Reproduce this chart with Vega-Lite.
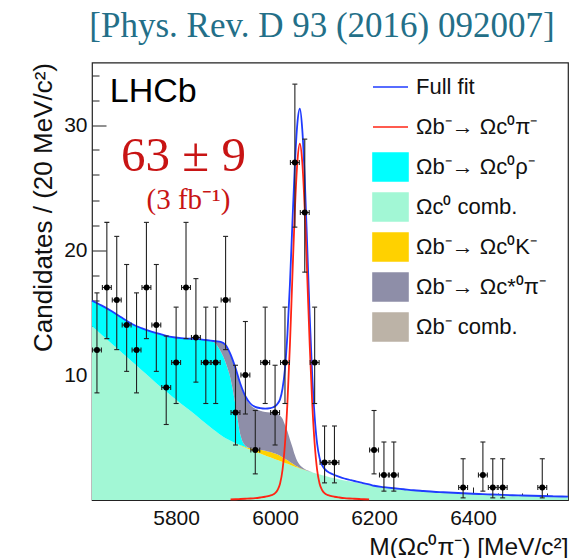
{
  "$schema": "https://vega.github.io/schema/vega-lite/v6.json",
  "width": 476,
  "height": 437.5,
  "autosize": {"type": "none"},
  "padding": {"left": 92, "top": 62.5, "right": 18, "bottom": 58},
  "background": "white",
  "config": {"view": {"stroke": "#222222", "strokeWidth": 1.2}, "font": "Liberation Sans"},
  "title": {"text": "[Phys. Rev. D 93 (2016) 092007]", "font": "Liberation Serif", "fontSize": 35, "fontWeight": "normal", "color": "#236f88", "anchor": "middle", "frame": "group", "dx": -8, "dy": 30, "offset": 21, "baseline": "alphabetic"},
  "resolve": {"axis": {"x": "independent", "y": "independent"}},
  "datasets": {
    "curves": [
      {"x": 5630, "a_ccomb": 13.9, "b_kaon": 0, "c_rho": 2.04, "d_star": 0},
      {"x": 5650, "a_ccomb": 13.2, "b_kaon": 0, "c_rho": 2.35, "d_star": 0},
      {"x": 5670, "a_ccomb": 12.5, "b_kaon": 0, "c_rho": 2.6, "d_star": 0},
      {"x": 5690, "a_ccomb": 11.8, "b_kaon": 0, "c_rho": 2.8, "d_star": 0},
      {"x": 5710, "a_ccomb": 11.1, "b_kaon": 0, "c_rho": 3.0, "d_star": 0},
      {"x": 5730, "a_ccomb": 10.4, "b_kaon": 0, "c_rho": 3.35, "d_star": 0},
      {"x": 5750, "a_ccomb": 9.7, "b_kaon": 0, "c_rho": 3.77, "d_star": 0},
      {"x": 5770, "a_ccomb": 9.0, "b_kaon": 0, "c_rho": 4.25, "d_star": 0},
      {"x": 5790, "a_ccomb": 8.35, "b_kaon": 0, "c_rho": 4.7, "d_star": 0},
      {"x": 5810, "a_ccomb": 7.7, "b_kaon": 0, "c_rho": 5.25, "d_star": 0},
      {"x": 5830, "a_ccomb": 7.1, "b_kaon": 0, "c_rho": 5.8, "d_star": 0},
      {"x": 5850, "a_ccomb": 6.45, "b_kaon": 0, "c_rho": 6.4, "d_star": 0},
      {"x": 5860, "a_ccomb": 6.12, "b_kaon": 0, "c_rho": 6.68, "d_star": 0},
      {"x": 5870, "a_ccomb": 5.8, "b_kaon": 0, "c_rho": 6.9, "d_star": 0.05},
      {"x": 5880, "a_ccomb": 5.5, "b_kaon": 0, "c_rho": 7.0, "d_star": 0.2},
      {"x": 5890, "a_ccomb": 5.2, "b_kaon": 0, "c_rho": 6.7, "d_star": 0.75},
      {"x": 5900, "a_ccomb": 4.95, "b_kaon": 0, "c_rho": 6.05, "d_star": 1.4},
      {"x": 5910, "a_ccomb": 4.75, "b_kaon": 0, "c_rho": 4.95, "d_star": 1.9, "sig": 0.05},
      {"x": 5920, "a_ccomb": 4.55, "b_kaon": 0, "c_rho": 3.05, "d_star": 2.9, "sig": 0.06},
      {"x": 5930, "a_ccomb": 4.35, "b_kaon": 0.03, "c_rho": 0.82, "d_star": 4.0, "sig": 0.08},
      {"x": 5940, "a_ccomb": 4.18, "b_kaon": 0.07, "c_rho": 0.1, "d_star": 3.85, "sig": 0.1},
      {"x": 5950, "a_ccomb": 4.02, "b_kaon": 0.12, "c_rho": 0, "d_star": 3.46, "sig": 0.12},
      {"x": 5960, "a_ccomb": 3.87, "b_kaon": 0.2, "c_rho": 0, "d_star": 3.23, "sig": 0.15},
      {"x": 5970, "a_ccomb": 3.72, "b_kaon": 0.3, "c_rho": 0, "d_star": 3.13, "sig": 0.2},
      {"x": 5980, "a_ccomb": 3.57, "b_kaon": 0.38, "c_rho": 0, "d_star": 3.1, "sig": 0.26},
      {"x": 5990, "a_ccomb": 3.42, "b_kaon": 0.42, "c_rho": 0, "d_star": 3.16, "sig": 0.35},
      {"x": 5995, "a_ccomb": 3.35, "b_kaon": 0.44, "c_rho": 0, "d_star": 3.19, "sig": 0.42},
      {"x": 6000, "a_ccomb": 3.27, "b_kaon": 0.45, "c_rho": 0, "d_star": 3.23, "sig": 0.55},
      {"x": 6005, "a_ccomb": 3.2, "b_kaon": 0.44, "c_rho": 0, "d_star": 3.26, "sig": 0.8},
      {"x": 6010, "a_ccomb": 3.12, "b_kaon": 0.42, "c_rho": 0, "d_star": 3.21, "sig": 1.3},
      {"x": 6015, "a_ccomb": 3.05, "b_kaon": 0.38, "c_rho": 0, "d_star": 3.07, "sig": 2.4},
      {"x": 6020, "a_ccomb": 2.97, "b_kaon": 0.33, "c_rho": 0, "d_star": 2.7, "sig": 4.5},
      {"x": 6025, "a_ccomb": 2.9, "b_kaon": 0.28, "c_rho": 0, "d_star": 2.32, "sig": 7.8},
      {"x": 6030, "a_ccomb": 2.82, "b_kaon": 0.22, "c_rho": 0, "d_star": 1.81, "sig": 12.4},
      {"x": 6035, "a_ccomb": 2.75, "b_kaon": 0.17, "c_rho": 0, "d_star": 1.33, "sig": 17.9},
      {"x": 6040, "a_ccomb": 2.67, "b_kaon": 0.12, "c_rho": 0, "d_star": 0.81, "sig": 23.2},
      {"x": 6045, "a_ccomb": 2.6, "b_kaon": 0.08, "c_rho": 0, "d_star": 0.42, "sig": 27.0},
      {"x": 6050, "a_ccomb": 2.52, "b_kaon": 0.05, "c_rho": 0, "d_star": 0.23, "sig": 28.5},
      {"x": 6055, "a_ccomb": 2.46, "b_kaon": 0.03, "c_rho": 0, "d_star": 0.13, "sig": 27.0},
      {"x": 6060, "a_ccomb": 2.4, "b_kaon": 0.02, "c_rho": 0, "d_star": 0.06, "sig": 23.2},
      {"x": 6065, "a_ccomb": 2.34, "b_kaon": 0.01, "c_rho": 0, "d_star": 0.03, "sig": 17.9},
      {"x": 6070, "a_ccomb": 2.28, "b_kaon": 0, "c_rho": 0, "d_star": 0.02, "sig": 12.4},
      {"x": 6075, "a_ccomb": 2.22, "b_kaon": 0, "c_rho": 0, "d_star": 0, "sig": 7.8},
      {"x": 6080, "a_ccomb": 2.16, "b_kaon": 0, "c_rho": 0, "d_star": 0, "sig": 4.5},
      {"x": 6085, "a_ccomb": 2.1, "b_kaon": 0, "c_rho": 0, "d_star": 0, "sig": 2.4},
      {"x": 6090, "a_ccomb": 2.05, "b_kaon": 0, "c_rho": 0, "d_star": 0, "sig": 1.3},
      {"x": 6095, "a_ccomb": 1.99, "b_kaon": 0, "c_rho": 0, "d_star": 0, "sig": 0.8},
      {"x": 6100, "a_ccomb": 1.94, "b_kaon": 0, "c_rho": 0, "d_star": 0, "sig": 0.55},
      {"x": 6105, "a_ccomb": 1.88, "b_kaon": 0, "c_rho": 0, "d_star": 0, "sig": 0.42},
      {"x": 6110, "a_ccomb": 1.83, "b_kaon": 0, "c_rho": 0, "d_star": 0, "sig": 0.35},
      {"x": 6120, "a_ccomb": 1.74, "b_kaon": 0, "c_rho": 0, "d_star": 0, "sig": 0.26},
      {"x": 6130, "a_ccomb": 1.65, "b_kaon": 0, "c_rho": 0, "d_star": 0, "sig": 0.2},
      {"x": 6140, "a_ccomb": 1.57, "b_kaon": 0, "c_rho": 0, "d_star": 0, "sig": 0.15},
      {"x": 6150, "a_ccomb": 1.5, "b_kaon": 0, "c_rho": 0, "d_star": 0, "sig": 0.12},
      {"x": 6160, "a_ccomb": 1.42, "b_kaon": 0, "c_rho": 0, "d_star": 0, "sig": 0.1},
      {"x": 6170, "a_ccomb": 1.35, "b_kaon": 0, "c_rho": 0, "d_star": 0, "sig": 0.08},
      {"x": 6180, "a_ccomb": 1.27, "b_kaon": 0, "c_rho": 0, "d_star": 0, "sig": 0.06},
      {"x": 6190, "a_ccomb": 1.2, "b_kaon": 0, "c_rho": 0, "d_star": 0, "sig": 0.05},
      {"x": 6200, "a_ccomb": 1.14, "b_kaon": 0, "c_rho": 0, "d_star": 0},
      {"x": 6220, "a_ccomb": 1.03, "b_kaon": 0, "c_rho": 0, "d_star": 0},
      {"x": 6240, "a_ccomb": 0.94, "b_kaon": 0, "c_rho": 0, "d_star": 0},
      {"x": 6260, "a_ccomb": 0.86, "b_kaon": 0, "c_rho": 0, "d_star": 0},
      {"x": 6280, "a_ccomb": 0.78, "b_kaon": 0, "c_rho": 0, "d_star": 0},
      {"x": 6300, "a_ccomb": 0.72, "b_kaon": 0, "c_rho": 0, "d_star": 0},
      {"x": 6320, "a_ccomb": 0.66, "b_kaon": 0, "c_rho": 0, "d_star": 0},
      {"x": 6340, "a_ccomb": 0.62, "b_kaon": 0, "c_rho": 0, "d_star": 0},
      {"x": 6360, "a_ccomb": 0.58, "b_kaon": 0, "c_rho": 0, "d_star": 0},
      {"x": 6380, "a_ccomb": 0.54, "b_kaon": 0, "c_rho": 0, "d_star": 0},
      {"x": 6400, "a_ccomb": 0.5, "b_kaon": 0, "c_rho": 0, "d_star": 0},
      {"x": 6420, "a_ccomb": 0.47, "b_kaon": 0, "c_rho": 0, "d_star": 0},
      {"x": 6440, "a_ccomb": 0.44, "b_kaon": 0, "c_rho": 0, "d_star": 0},
      {"x": 6460, "a_ccomb": 0.41, "b_kaon": 0, "c_rho": 0, "d_star": 0},
      {"x": 6480, "a_ccomb": 0.38, "b_kaon": 0, "c_rho": 0, "d_star": 0},
      {"x": 6500, "a_ccomb": 0.36, "b_kaon": 0, "c_rho": 0, "d_star": 0},
      {"x": 6520, "a_ccomb": 0.34, "b_kaon": 0, "c_rho": 0, "d_star": 0},
      {"x": 6540, "a_ccomb": 0.32, "b_kaon": 0, "c_rho": 0, "d_star": 0},
      {"x": 6560, "a_ccomb": 0.3, "b_kaon": 0, "c_rho": 0, "d_star": 0},
      {"x": 6580, "a_ccomb": 0.28, "b_kaon": 0, "c_rho": 0, "d_star": 0},
      {"x": 6592, "a_ccomb": 0.27, "b_kaon": 0, "c_rho": 0, "d_star": 0}
    ],
    "points": [
      {"x": 5640, "n": 12, "lo": 8.57, "hi": 16.57, "x0": 5631, "x1": 5649},
      {"x": 5660, "n": 17, "lo": 12.91, "hi": 22.21, "x0": 5651, "x1": 5669},
      {"x": 5680, "n": 16, "lo": 12.03, "hi": 21.09, "x0": 5671, "x1": 5689},
      {"x": 5700, "n": 14, "lo": 10.29, "hi": 18.84, "x0": 5691, "x1": 5709},
      {"x": 5720, "n": 12, "lo": 8.57, "hi": 16.57, "x0": 5711, "x1": 5729},
      {"x": 5740, "n": 17, "lo": 12.91, "hi": 22.21, "x0": 5731, "x1": 5749},
      {"x": 5760, "n": 14, "lo": 10.29, "hi": 18.84, "x0": 5751, "x1": 5769},
      {"x": 5780, "n": 9, "lo": 6.04, "hi": 13.12, "x0": 5771, "x1": 5789},
      {"x": 5800, "n": 11, "lo": 7.72, "hi": 15.43, "x0": 5791, "x1": 5809},
      {"x": 5820, "n": 17, "lo": 12.91, "hi": 22.21, "x0": 5811, "x1": 5829},
      {"x": 5840, "n": 13, "lo": 9.43, "hi": 17.71, "x0": 5831, "x1": 5849},
      {"x": 5860, "n": 11, "lo": 7.72, "hi": 15.43, "x0": 5851, "x1": 5869},
      {"x": 5880, "n": 11, "lo": 7.72, "hi": 15.43, "x0": 5871, "x1": 5889},
      {"x": 5900, "n": 16, "lo": 12.03, "hi": 21.09, "x0": 5891, "x1": 5909},
      {"x": 5920, "n": 7, "lo": 4.4, "hi": 10.78, "x0": 5911, "x1": 5929},
      {"x": 5940, "n": 10, "lo": 6.88, "hi": 14.28, "x0": 5931, "x1": 5949},
      {"x": 5960, "n": 4, "lo": 2.09, "hi": 7.16, "x0": 5951, "x1": 5969},
      {"x": 5980, "n": 11, "lo": 7.72, "hi": 15.43, "x0": 5971, "x1": 5989},
      {"x": 6000, "n": 7, "lo": 4.4, "hi": 10.78, "x0": 5991, "x1": 6009},
      {"x": 6020, "n": 11, "lo": 7.72, "hi": 15.43, "x0": 6011, "x1": 6029},
      {"x": 6040, "n": 27, "lo": 21.83, "hi": 33.27, "x0": 6031, "x1": 6049},
      {"x": 6060, "n": 23, "lo": 18.23, "hi": 28.87, "x0": 6051, "x1": 6069},
      {"x": 6080, "n": 11, "lo": 7.72, "hi": 15.43, "x0": 6071, "x1": 6089},
      {"x": 6100, "n": 3, "lo": 1.37, "hi": 5.92, "x0": 6091, "x1": 6109},
      {"x": 6120, "n": 3, "lo": 1.37, "hi": 5.92, "x0": 6111, "x1": 6129},
      {"x": 6200, "n": 4, "lo": 2.09, "hi": 7.16, "x0": 6191, "x1": 6209},
      {"x": 6220, "n": 2, "lo": 0.71, "hi": 4.64, "x0": 6211, "x1": 6229},
      {"x": 6240, "n": 2, "lo": 0.71, "hi": 4.64, "x0": 6231, "x1": 6249},
      {"x": 6380, "n": 1, "lo": 0.17, "hi": 3.3, "x0": 6371, "x1": 6389},
      {"x": 6420, "n": 2, "lo": 0.71, "hi": 4.64, "x0": 6411, "x1": 6429},
      {"x": 6440, "n": 1, "lo": 0.17, "hi": 3.3, "x0": 6431, "x1": 6449},
      {"x": 6460, "n": 1, "lo": 0.17, "hi": 3.3, "x0": 6451, "x1": 6469},
      {"x": 6540, "n": 1, "lo": 0.17, "hi": 3.3, "x0": 6531, "x1": 6549}
    ]
  },
  "layer": [
    {
      "data": {"name": "curves"},
      "transform": [{"fold": ["a_ccomb", "b_kaon", "c_rho", "d_star"], "as": ["comp", "val"]}],
      "mark": {"type": "area", "interpolate": "monotone"},
      "encoding": {
        "x": {
          "field": "x", "type": "quantitative",
          "scale": {"domain": [5630, 6592], "nice": false, "zero": false},
          "axis": {
            "orient": "bottom",
            "values": [5800, 6000, 6200, 6400],
            "format": "d", "tickSize": -13, "tickColor": "#222222", "tickWidth": 1,
            "domain": false, "grid": false,
            "labelFont": "Liberation Sans", "labelFontSize": 21, "labelColor": "#111111", "labelPadding": 20,
            "labelOverlap": false,
            "title": "M(Ωc⁰π⁻) [MeV/c²]", "titleFont": "Liberation Sans", "titleFontSize": 24.5, "titleFontWeight": "normal", "titleColor": "#111111",
            "titleAlign": "right", "titleAnchor": "end", "titleBaseline": "alphabetic", "titleX": 476, "titleY": 54
          }
        },
        "y": {
          "field": "val", "type": "quantitative", "stack": "zero",
          "scale": {"domain": [0, 35], "nice": false, "zero": true},
          "axis": {
            "orient": "left",
            "values": [10, 20, 30],
            "tickSize": -14, "tickColor": "#222222", "tickWidth": 1,
            "domain": false, "grid": false,
            "labelFont": "Liberation Sans", "labelFontSize": 21, "labelColor": "#111111", "labelPadding": 19,
            "labelOverlap": false,
            "title": "Candidates / (20 MeV/c²)", "titleFont": "Liberation Sans", "titleFontSize": 26, "titleFontWeight": "normal", "titleColor": "#111111",
            "titleAngle": 270, "titleAlign": "right", "titleBaseline": "alphabetic", "titleX": -41, "titleY": 0
          }
        },
        "color": {
          "field": "comp", "type": "nominal",
          "scale": {"domain": ["full", "sig", "c_rho", "a_ccomb", "b_kaon", "d_star", "e_bcomb"], "range": ["#1f3bff", "#ff2414", "#00ffff", "#a2f7d5", "#ffd100", "#8e8ea8", "#bcb3a7"]},
          "legend": {
            "orient": "none", "legendX": 280, "legendY": 6, "title": null, "padding": 0,
            "symbolSize": 1225, "rowPadding": 4, "labelOffset": 7, "labelLimit": 300, "gridAlign": "all",
            "labelFont": "Liberation Sans", "labelFontSize": 22, "labelColor": "#111111",
            "labelExpr": "datum.value == 'full' ? 'Full fit' : datum.value == 'sig' ? 'Ωb⁻→ Ωc⁰π⁻' : datum.value == 'c_rho' ? 'Ωb⁻→ Ωc⁰ρ⁻' : datum.value == 'a_ccomb' ? 'Ωc⁰ comb.' : datum.value == 'b_kaon' ? 'Ωb⁻→ Ωc⁰K⁻' : datum.value == 'd_star' ? 'Ωb⁻→ Ωc*⁰π⁻' : 'Ωb⁻ comb.'",
            "encode": {
              "symbols": {
                "update": {
                  "shape": {"signal": "datum.value == 'full' || datum.value == 'sig' ? 'M-1,0H1' : 'M-1,-0.8H1V0.8H-1Z'"},
                  "fill": {"signal": "datum.value == 'full' || datum.value == 'sig' ? 'transparent' : datum.value == 'c_rho' ? '#00ffff' : datum.value == 'a_ccomb' ? '#a2f7d5' : datum.value == 'b_kaon' ? '#ffd100' : datum.value == 'd_star' ? '#8e8ea8' : '#bcb3a7'"},
                  "stroke": {"signal": "datum.value == 'full' ? '#1f3bff' : datum.value == 'sig' ? '#ff2414' : 'transparent'"},
                  "strokeWidth": {"value": 1.6},
                  "opacity": {"value": 1},
                  "fillOpacity": {"value": 1},
                  "strokeOpacity": {"value": 1}
                }
              }
            }
          }
        },
        "order": {"field": "comp", "sort": "ascending"}
      }
    },
    {
      "data": {"name": "curves"},
      "transform": [
        {"fold": ["a_ccomb", "b_kaon", "c_rho", "d_star", "sig"], "as": ["comp", "val"]},
        {"aggregate": [{"op": "sum", "field": "val", "as": "total"}], "groupby": ["x"]}
      ],
      "mark": {"type": "line", "interpolate": "monotone", "strokeWidth": 1.8},
      "encoding": {
        "x": {"field": "x", "type": "quantitative", "axis": {"orient": "bottom", "values": [5650, 5700, 5750, 5850, 5900, 5950, 6050, 6100, 6150, 6250, 6300, 6350, 6450, 6500, 6550], "tickSize": -7, "tickColor": "#222222", "tickWidth": 1, "labels": false, "domain": false, "grid": false, "title": null}},
        "y": {"field": "total", "type": "quantitative", "axis": {"orient": "left", "values": [2, 4, 6, 8, 12, 14, 16, 18, 22, 24, 26, 28, 32, 34], "tickSize": -7, "tickColor": "#222222", "tickWidth": 1, "labels": false, "domain": false, "grid": false, "title": null}},
        "color": {"datum": "full", "type": "nominal", "legend": null}
      }
    },
    {
      "data": {"name": "curves"},
      "transform": [{"filter": {"field": "sig", "valid": true}}],
      "mark": {"type": "line", "interpolate": "monotone", "strokeWidth": 1.8},
      "encoding": {
        "x": {"field": "x", "type": "quantitative", "axis": null},
        "y": {"field": "sig", "type": "quantitative", "axis": null},
        "color": {"datum": "sig", "type": "nominal", "legend": null}
      }
    },
    {
      "data": {"name": "points"},
      "mark": {"type": "rule", "color": "#222222", "strokeWidth": 1.1},
      "encoding": {
        "x": {"field": "x", "type": "quantitative", "axis": null},
        "y": {"field": "lo", "type": "quantitative", "axis": null},
        "y2": {"field": "hi"}
      }
    },
    {
      "data": {"name": "points"},
      "mark": {"type": "rule", "color": "#222222", "strokeWidth": 1.1},
      "encoding": {
        "x": {"field": "x0", "type": "quantitative", "axis": null},
        "x2": {"field": "x1"},
        "y": {"field": "n", "type": "quantitative", "axis": null}
      }
    },
    {
      "data": {"name": "points"},
      "transform": [{"fold": ["lo", "hi"], "as": ["end", "yv"]}],
      "mark": {"type": "tick", "orient": "horizontal", "size": 5, "thickness": 1.1, "color": "#222222", "opacity": 1},
      "encoding": {
        "x": {"field": "x", "type": "quantitative", "axis": null},
        "y": {"field": "yv", "type": "quantitative", "axis": null}
      }
    },
    {
      "data": {"name": "points"},
      "transform": [{"fold": ["x0", "x1"], "as": ["end", "xv"]}],
      "mark": {"type": "tick", "orient": "vertical", "size": 5, "thickness": 1.1, "color": "#222222", "opacity": 1},
      "encoding": {
        "x": {"field": "xv", "type": "quantitative", "axis": null},
        "y": {"field": "n", "type": "quantitative", "axis": null}
      }
    },
    {
      "data": {"name": "points"},
      "mark": {"type": "circle", "size": 36, "color": "#000000", "opacity": 1},
      "encoding": {
        "x": {"field": "x", "type": "quantitative", "axis": null},
        "y": {"field": "n", "type": "quantitative", "axis": null}
      }
    },
    {
      "data": {"values": [{"label": "LHCb"}]},
      "mark": {"type": "text", "font": "Liberation Sans", "fontSize": 34, "align": "left", "baseline": "alphabetic", "color": "#000000"},
      "encoding": {"text": {"field": "label"}, "x": {"datum": 5666, "type": "quantitative", "axis": null}, "y": {"datum": 31.86, "type": "quantitative", "axis": null}}
    },
    {
      "data": {"values": [{"label": "63 ± 9"}]},
      "mark": {"type": "text", "font": "Liberation Serif", "fontSize": 49, "align": "center", "baseline": "alphabetic", "color": "#c81414"},
      "encoding": {"text": {"field": "label"}, "x": {"datum": 5815, "type": "quantitative", "axis": null}, "y": {"datum": 26.3, "type": "quantitative", "axis": null}}
    },
    {
      "data": {"values": [{"label": "(3 fb⁻¹)"}]},
      "mark": {"type": "text", "font": "Liberation Serif", "fontSize": 29, "align": "center", "baseline": "alphabetic", "color": "#c81414"},
      "encoding": {"text": {"field": "label"}, "x": {"datum": 5825, "type": "quantitative", "axis": null}, "y": {"datum": 23.3, "type": "quantitative", "axis": null}}
    }
  ]
}
